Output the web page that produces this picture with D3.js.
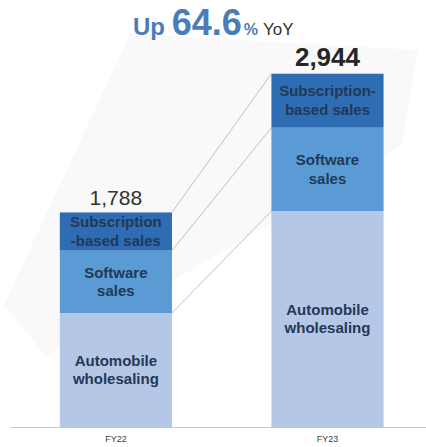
<!DOCTYPE html>
<html>
<head>
<meta charset="utf-8">
<script src="https://cdn.jsdelivr.net/npm/d3@7"></script>
<style>
  html, body { margin: 0; padding: 0; background: #ffffff; }
  svg { display: block; font-family: "Liberation Sans", Arial, sans-serif; }
</style>
</head>
<body>
<svg id="chart" width="426" height="447"></svg>
<script>
// Sales breakdown by fiscal year
const years = ["FY22", "FY23"];
const segments = ["auto", "software", "subscription"];
const segmentLabels = {
  auto: { FY22: ["Automobile", "wholesaling"], FY23: ["Automobile", "wholesaling"] },
  software: { FY22: ["Software", "sales"], FY23: ["Software", "sales"] },
  subscription: { FY22: ["Subscription", "-based sales"], FY23: ["Subscription-", "based sales"] }
};
const autoSales = [950, 1800];
const softwareSales = [520, 694];
const subscriptionSales = [318, 450];
const totals = [1788, 2944];
const growthPct = "64.6";

const colors = { auto: "#b4c7e7", software: "#5b9bd5", subscription: "#2e6db4" };

const rows = years.map((y, i) => ({
  year: y,
  auto: autoSales[i],
  software: softwareSales[i],
  subscription: subscriptionSales[i],
  total: totals[i]
}));

const svg = d3.select("#chart");

const x = d3.scaleBand().domain(years).range([10, 426])
  .paddingInner(0.47).paddingOuter(0.218).align(0.54);
const y = d3.scaleLinear().domain([0, 3000]).range([427, 67]);

// faint background arrow
svg.append("path")
  .attr("d", d3.line()([[4, 305], [130, 34], [418, 50], [402, 145], [46, 356]]) + "Z")
  .attr("fill", "#f9f9f9");

const stack = d3.stack().keys(segments);
const series = stack(rows);

// stacked bars
const layer = svg.append("g").selectAll("g").data(series).join("g")
  .attr("fill", d => colors[d.key]);
layer.selectAll("rect").data(d => d.map(p => ({ key: d.key, p }))).join("rect")
  .attr("x", d => x(d.p.data.year))
  .attr("width", x.bandwidth())
  .attr("y", d => y(d.p[1]))
  .attr("height", d => y(d.p[0]) - y(d.p[1]));

// connectors between matching segment boundaries
const x0 = x(years[0]) + x.bandwidth();
const x1 = x(years[1]);
series.forEach(s => {
  svg.append("line")
    .attr("x1", x0).attr("y1", y(s[0][1]))
    .attr("x2", x1).attr("y2", y(s[1][1]))
    .attr("stroke", "#a6a6a6").attr("stroke-width", 0.7);
});

// segment labels
series.forEach(s => {
  s.forEach(p => {
    const lines = segmentLabels[s.key][p.data.year];
    const cy = (y(p[0]) + y(p[1])) / 2;
    const t = svg.append("text")
      .attr("text-anchor", "middle")
      .attr("font-size", 15)
      .attr("font-weight", "bold")
      .attr("fill", "#233856");
    lines.forEach((ln, k) => {
      t.append("tspan")
        .attr("x", x(p.data.year) + x.bandwidth() / 2)
        .attr("y", cy + (k - (lines.length - 1) / 2) * 18.5 + 5)
        .text(ln);
    });
  });
});

// totals above bars
svg.append("text")
  .attr("x", x("FY22") + x.bandwidth() / 2)
  .attr("y", y(totals[0]) - 7)
  .attr("text-anchor", "middle")
  .attr("font-size", 21)
  .attr("fill", "#333333")
  .text(d3.format(",")(totals[0]));
svg.append("text")
  .attr("x", x("FY23") + x.bandwidth() / 2)
  .attr("y", y(totals[1]) - 8)
  .attr("text-anchor", "middle")
  .attr("font-size", 26)
  .attr("font-weight", "bold")
  .attr("fill", "#262626")
  .text(d3.format(",")(totals[1]));

// x axis
const axis = svg.append("g")
  .attr("transform", `translate(0,${y(0)})`)
  .call(d3.axisBottom(x).tickSize(0).tickSizeOuter(0).tickPadding(9));
axis.select(".domain").attr("stroke", "#c8c8c8");
axis.selectAll(".tick text")
  .attr("font-family", "Liberation Sans, Arial, sans-serif")
  .attr("font-size", 9)
  .attr("fill", "#404040");

// headline
const head = svg.append("text").attr("x", 133).attr("y", 35);
head.append("tspan").attr("font-size", 24).attr("font-weight", "bold").attr("fill", "#4a7db8").text("Up ");
head.append("tspan").attr("font-size", 36).attr("font-weight", "bold").attr("fill", "#4a7db8").text(growthPct);
head.append("tspan").attr("font-size", 16).attr("font-weight", "bold").attr("fill", "#4a7db8").attr("dx", 2).text("%");
head.append("tspan").attr("font-size", 17).attr("fill", "#333333").attr("dx", 5).text("YoY");
</script>
</body>
</html>
